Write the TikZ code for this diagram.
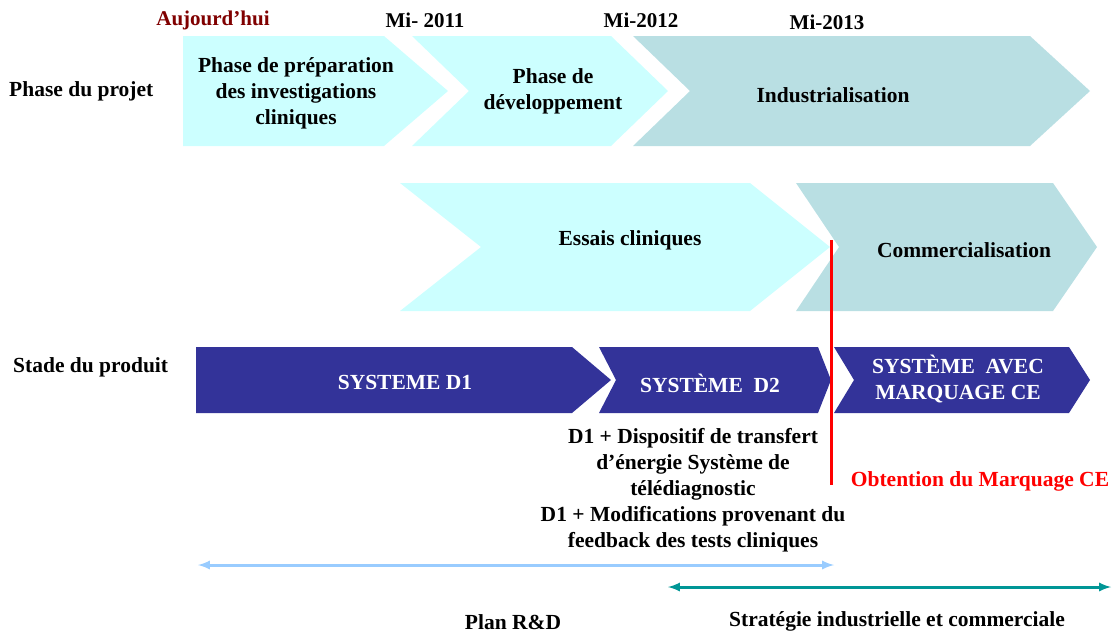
\documentclass[tikz,border=0pt]{standalone}
\usepackage{fontspec}
\setmainfont{Liberation Serif}
\begin{document}
\begin{tikzpicture}[x=1pt,y=-1pt]
    \useasboundingbox (0,0) rectangle (1119,635);

    \definecolor{paleCyan}{RGB}{204,255,255}
    \definecolor{paleTeal}{RGB}{185,223,227}
    \definecolor{deepBlue}{RGB}{51,51,153}
    \definecolor{darkRed}{RGB}{128,0,0}
    \definecolor{skyBlue}{RGB}{153,204,255}
    \definecolor{seaTeal}{RGB}{0,150,150}

    \tikzstyle{light}=[fill=paleCyan]
    \tikzstyle{teal}=[fill=paleTeal]
    \tikzstyle{stage}=[fill=deepBlue]
    \tikzstyle{txt}=[font=\fontsize{21.5}{26}\selectfont\bfseries,align=center,inner sep=0pt]
    \tikzstyle{wtxt}=[txt,text=white]
    \tikzstyle{date}=[font=\fontsize{21}{24}\selectfont\bfseries,inner sep=0pt]

    % phase du projet
    \fill[light] (183,36) -- (384,36) -- (448,91) -- (384,146) -- (183,146) -- cycle;
    \fill[light] (412,36) -- (611,36) -- (668,91) -- (611,146) -- (412,146) -- (469,91) -- cycle;
    \fill[teal] (633,36) -- (1030,36) -- (1090,91) -- (1030,146) -- (633,146) -- (690,91) -- cycle;

    % essais / commercialisation
    \fill[light] (400,183) -- (750,183) -- (830,247) -- (750,311) -- (400,311) -- (481,247) -- cycle;
    \fill[teal] (796,183) -- (1053,183) -- (1097,247) -- (1053,311) -- (796,311) -- (839,247) -- cycle;

    % stade du produit
    \fill[stage] (196,347) -- (572,347) -- (611,380) -- (572,413) -- (196,413) -- cycle;
    \fill[stage] (599,347) -- (818,347) -- (831,380) -- (818,413) -- (599,413) -- (616,380) -- cycle;
    \fill[stage] (834,347) -- (1069,347) -- (1090,380) -- (1069,413) -- (834,413) -- (854,380) -- cycle;

    \node[date,text=darkRed] (today) at (213,20) {Aujourd'hui};
    \node[date] (mid11) at (425,20) {Mi- 2011};
    \node[date] (mid12) at (641,20) {Mi-2012};
    \node[date] (mid13) at (827,22) {Mi-2013};

    \node[txt,anchor=west] (projet) at (9,91) {Phase du projet};
    \node[txt,anchor=west] (produit) at (13,367) {Stade du produit};

    \node[txt] (prep) at (296,93) {Phase de préparation\\des investigations\\cliniques};
    \node[txt] (dev) at (553,91) {Phase de\\développement};
    \node[txt] (indus) at (833,95) {Industrialisation};
    \node[txt] (essais) at (630,240) {Essais cliniques};
    \node[txt] (comm) at (964,250) {Commercialisation};

    \node[wtxt] (sysA) at (405,382) {SYSTEME D1};
    \node[wtxt] (sysB) at (710,383) {SYSTÈME\ \ D2};
    \node[wtxt] (sysC) at (958,379) {SYSTÈME\ \ AVEC\\MARQUAGE CE};

    \node[txt] (descr) at (693,490) {D1 + Dispositif de transfert\\d’énergie Système de\\télédiagnostic\\D1 + Modifications provenant du\\feedback des tests cliniques};
    \node[txt,text=red] (ce) at (980,481) {Obtention du Marquage CE};

    \node[txt] (rd) at (513,622) {Plan R\&D};
    \node[txt] (strat) at (897,621) {Stratégie industrielle et commerciale};

    \coordinate (ceTop) at (831,240);
    \coordinate (ceBot) at (831,485);
    \coordinate (rdL) at (198,565);
    \coordinate (rdR) at (834,565);
    \coordinate (stL) at (668,587);
    \coordinate (stR) at (1111,587);

    \draw[red, line width=3pt] (ceTop) -- (ceBot);
    \draw[skyBlue, line width=3pt, {latex}-{latex}] (rdL) -- (rdR);
    \draw[seaTeal, line width=3pt, {latex}-{latex}] (stL) -- (stR);
\end{tikzpicture}
\end{document}
